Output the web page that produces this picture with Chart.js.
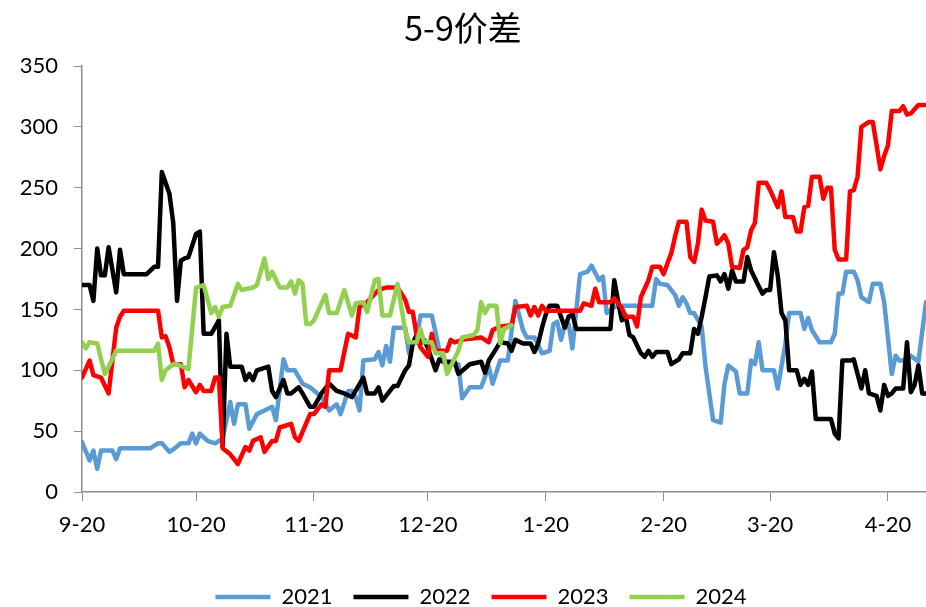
<!DOCTYPE html>
<html>
<head>
<meta charset="utf-8">
<script src="https://cdn.jsdelivr.net/npm/chart.js@4.4.1/dist/chart.umd.min.js"></script>
<style>
    body { margin: 0; background: #fff; }
    #wrap { width: 926px; height: 607px; }
</style>
</head>
<body>
<div id="wrap"><canvas id="chart_1"></canvas></div>
<script>
// days counted from 9-20
const tick_days = [0, 30, 61, 91, 122, 153, 181, 212]
const tick_labels = ["9-20", "10-20", "11-20", "12-20", "1-20", "2-20", "3-20", "4-20"]

const days_2021 = [0, 2, 3, 4, 5, 8, 9, 10, 18, 20, 21, 23, 24, 26, 28, 29, 30, 31, 33, 35, 37, 39, 40, 41, 43, 44, 46, 48, 50, 51, 53, 54, 56, 58, 60, 63, 65, 67, 68, 70, 71, 72, 73, 74, 77, 78, 79, 80, 81, 82, 85, 86, 87, 88, 89, 92, 93, 94, 96, 99, 100, 102, 105, 107, 108, 110, 112, 114, 116, 117, 119, 121, 123, 124, 125, 126, 127, 128, 129, 130, 131, 133, 134, 136, 137, 138, 140, 142, 146, 150, 151, 152, 154, 156, 157, 158, 159, 160, 161, 163, 164, 166, 168, 169, 170, 172, 173, 175, 176, 177, 178, 179, 182, 183, 185, 186, 189, 190, 191, 192, 194, 197, 198, 199, 200, 201, 203, 204, 205, 207, 208, 210, 211, 213, 214, 215, 217, 218, 220, 222]
const values_2021 = [41, 26, 34, 19, 34, 34, 27, 36, 36, 40, 40, 33, 35, 40, 40, 48, 40, 48, 42, 40, 44, 74, 56, 72, 72, 52, 64, 67, 70, 59, 109, 100, 100, 89, 86, 78, 67, 72, 64, 83, 83, 78, 67, 108, 109, 115, 104, 120, 107, 135, 135, 114, 122, 123, 145, 145, 131, 116, 105, 105, 77, 86, 86, 103, 89, 108, 108, 157, 133, 127, 127, 114, 116, 138, 140, 125, 138, 138, 118, 149, 179, 181, 186, 174, 177, 147, 152, 153, 153, 153, 175, 171, 170, 162, 153, 160, 155, 147, 147, 136, 103, 59, 57, 89, 104, 99, 81, 81, 108, 105, 123, 100, 100, 85, 122, 147, 147, 134, 143, 133, 123, 123, 130, 163, 163, 181, 181, 174, 160, 156, 171, 171, 156, 97, 112, 108, 108, 112, 107, 156]

const days_2022 = [0, 2, 3, 4, 5, 6, 7, 9, 10, 11, 17, 19, 20, 21, 23, 24, 25, 26, 27, 28, 30, 31, 32, 34, 36, 37, 38, 39, 42, 43, 44, 45, 46, 49, 50, 51, 53, 54, 55, 57, 58, 60, 61, 63, 65, 67, 69, 71, 74, 75, 77, 78, 79, 81, 82, 83, 85, 86, 87, 88, 89, 90, 91, 92, 93, 94, 95, 98, 99, 102, 105, 106, 107, 109, 110, 112, 113, 114, 116, 118, 119, 120, 121, 122, 123, 125, 126, 127, 128, 129, 130, 139, 140, 141, 142, 143, 144, 145, 147, 148, 149, 150, 151, 154, 155, 157, 158, 160, 161, 162, 163, 164, 165, 167, 168, 169, 170, 171, 172, 174, 175, 176, 178, 179, 180, 181, 182, 183, 184, 185, 186, 188, 189, 190, 191, 192, 193, 197, 198, 199, 200, 202, 203, 205, 206, 207, 209, 210, 211, 212, 213, 214, 216, 217, 218, 219, 220, 221, 222]
const values_2022 = [170, 170, 157, 200, 178, 178, 201, 164, 199, 179, 179, 185, 185, 263, 245, 221, 157, 190, 192, 193, 212, 214, 130, 130, 141, 37, 130, 103, 103, 92, 97, 92, 100, 103, 83, 78, 92, 81, 81, 86, 81, 70, 70, 81, 89, 83, 81, 78, 94, 81, 81, 86, 75, 83, 87, 87, 100, 104, 122, 129, 122, 125, 118, 109, 100, 109, 107, 107, 97, 105, 107, 98, 108, 118, 123, 122, 116, 125, 122, 122, 115, 122, 135, 146, 153, 153, 144, 135, 144, 146, 134, 134, 174, 157, 141, 145, 129, 127, 114, 111, 116, 111, 115, 115, 105, 109, 114, 114, 134, 130, 144, 160, 177, 178, 173, 179, 167, 182, 173, 173, 193, 182, 169, 163, 166, 166, 197, 178, 147, 141, 100, 100, 88, 93, 88, 99, 60, 60, 48, 44, 108, 108, 109, 85, 100, 81, 79, 67, 88, 79, 81, 85, 85, 123, 82, 88, 104, 81, 81]

const days_2023 = [0, 2, 3, 5, 7, 9, 10, 11, 20, 21, 22, 23, 24, 26, 27, 28, 30, 31, 32, 34, 35, 36, 37, 39, 41, 43, 44, 45, 47, 48, 50, 51, 52, 55, 56, 57, 60, 61, 63, 64, 65, 68, 70, 72, 73, 75, 78, 80, 83, 85, 86, 87, 88, 89, 91, 92, 93, 96, 97, 98, 100, 102, 105, 107, 108, 110, 113, 114, 117, 118, 119, 120, 121, 122, 131, 132, 134, 135, 136, 139, 140, 142, 143, 145, 146, 147, 149, 150, 152, 153, 154, 155, 156, 157, 159, 160, 161, 162, 163, 164, 166, 167, 168, 169, 170, 171, 173, 174, 175, 176, 177, 178, 180, 181, 183, 184, 185, 187, 188, 189, 190, 191, 192, 194, 195, 196, 197, 198, 199, 201, 202, 203, 204, 205, 207, 208, 209, 210, 211, 212, 213, 215, 216, 217, 218, 220, 222]
const values_2023 = [94, 108, 96, 94, 81, 135, 144, 149, 149, 127, 128, 119, 105, 105, 86, 92, 82, 88, 83, 83, 94, 94, 36, 31, 23, 37, 34, 42, 45, 33, 42, 42, 53, 56, 45, 42, 64, 64, 72, 70, 100, 100, 130, 127, 152, 156, 166, 168, 168, 158, 148, 148, 129, 119, 111, 130, 116, 116, 125, 123, 125, 126, 127, 123, 133, 136, 137, 152, 153, 145, 152, 145, 153, 149, 149, 155, 153, 167, 156, 156, 159, 151, 144, 144, 136, 160, 174, 185, 185, 179, 188, 196, 210, 222, 222, 193, 189, 204, 232, 223, 222, 204, 207, 211, 204, 185, 184, 199, 201, 215, 221, 254, 254, 248, 234, 247, 226, 226, 214, 214, 234, 235, 259, 259, 241, 250, 250, 199, 191, 191, 247, 248, 259, 300, 304, 304, 285, 265, 276, 285, 313, 313, 317, 310, 311, 318, 318]

const days_2024 = [0, 1, 2, 4, 6, 7, 9, 19, 20, 21, 22, 24, 25, 28, 30, 32, 34, 35, 36, 37, 39, 41, 42, 45, 46, 48, 49, 50, 52, 54, 55, 56, 57, 58, 59, 60, 61, 64, 65, 67, 69, 71, 72, 74, 75, 77, 78, 79, 81, 83, 85, 86, 88, 89, 90, 92, 93, 95, 96, 99, 100, 103, 104, 105, 106, 107, 109, 110, 111, 113]
const values_2024 = [123, 118, 123, 122, 97, 103, 116, 116, 122, 92, 100, 105, 105, 101, 168, 170, 147, 152, 144, 152, 153, 171, 166, 168, 170, 192, 175, 181, 168, 168, 173, 163, 174, 171, 138, 138, 141, 162, 147, 147, 166, 145, 155, 156, 148, 174, 175, 145, 145, 171, 133, 123, 123, 134, 123, 123, 114, 114, 97, 116, 127, 129, 133, 156, 147, 153, 153, 122, 134, 137]

function to_points(days, values){
    return days.map((d, i) => ({x: d, y: values[i]}))
}

const label_font = {family: "Lato", size: 22}

const data_1 = {
    datasets: [
        {label: "2021", data: to_points(days_2021, values_2021), borderColor: "#5b9bd5", order: 4},
        {label: "2022", data: to_points(days_2022, values_2022), borderColor: "#000000", order: 3},
        {label: "2023", data: to_points(days_2023, values_2023), borderColor: "#ff0000", order: 2},
        {label: "2024", data: to_points(days_2024, values_2024), borderColor: "#92d050", order: 1}
    ].map(ds => Object.assign(ds, {
        backgroundColor: ds.borderColor,
        borderWidth: 4.5,
        pointRadius: 0,
        tension: 0,
        borderJoinStyle: "round",
        borderCapStyle: "round"
    }))
}

// move the legend a bit right, like the original
const legend_shift = {
    id: "legend_shift",
    afterLayout(chart){
        chart.legend.left += 18
        chart.legend.right += 18
    }
}

const config_1 = {
    type: "line",
    data: data_1,
    plugins: [legend_shift],
    options: {
        responsive: true,
        maintainAspectRatio: false,
        animation: false,
        layout: {padding: {top: 0, left: 0, right: 0, bottom: -11}},
        plugins: {
            title: {
                display: true,
                text: "5-9价差",
                color: "#000",
                font: {family: "Noto Sans CJK SC", size: 34, weight: "normal"},
                padding: {top: 8, bottom: 17.2}
            },
            legend: {
                position: "bottom",
                labels: {
                    usePointStyle: true,
                    pointStyle: "line",
                    pointStyleWidth: 55,
                    color: "#000",
                    font: label_font,
                    padding: 21,
                    sort: (a, b) => a.datasetIndex - b.datasetIndex
                }
            },
            tooltip: {enabled: false}
        },
        scales: {
            x: {
                type: "linear",
                min: 0,
                max: 222,
                afterBuildTicks: (scale) => {
                    scale.ticks = tick_days.map(v => ({value: v}))
                },
                afterFit: (scale) => { scale.height = 73 },
                grid: {drawOnChartArea: false, drawTicks: true, tickLength: 9, color: "#8f8f8f"},
                border: {color: "#8f8f8f", width: 1.5},
                ticks: {
                    autoSkip: false,
                    maxRotation: 0,
                    padding: 11,
                    color: "#000",
                    font: label_font,
                    callback: (value) => tick_labels[tick_days.indexOf(value)]
                }
            },
            y: {
                min: 0,
                max: 350,
                afterFit: (scale) => { scale.width = 82 },
                grid: {drawOnChartArea: false, drawTicks: true, tickLength: 8, color: "#8f8f8f"},
                border: {color: "#8f8f8f", width: 1.5},
                ticks: {stepSize: 50, padding: 16, color: "#000", font: label_font}
            }
        }
    }
}

const ctx_1 = document.getElementById("chart_1").getContext("2d")
const chart_1 = new Chart(ctx_1, config_1)
</script>
</body>
</html>
